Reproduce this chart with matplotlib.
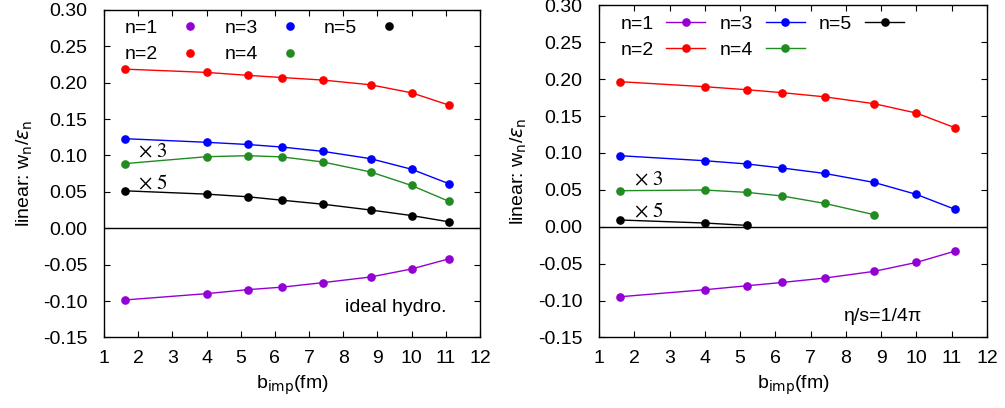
import matplotlib.pyplot as plt

plt.rcParams['font.family'] = ['Liberation Sans', 'DejaVu Sans']
plt.rcParams['font.size'] = 10

b = [1.6, 4.0, 5.2, 6.2, 7.4, 8.8, 10.0, 11.1]

# ideal hydro
ideal_n1 = [-0.0986, -0.0899, -0.0844, -0.0810, -0.0748, -0.0670, -0.0560, -0.0420]
ideal_n2 = [0.2185, 0.2140, 0.2100, 0.2070, 0.2035, 0.1970, 0.1860, 0.1690]
ideal_n3 = [0.1230, 0.1180, 0.1150, 0.1115, 0.1056, 0.0955, 0.0810, 0.0610]
ideal_n4 = [0.0887, 0.0982, 0.0996, 0.0980, 0.0910, 0.0773, 0.0587, 0.0368]
ideal_n5 = [0.0514, 0.0468, 0.0432, 0.0385, 0.0330, 0.0250, 0.0174, 0.0087]

# eta/s = 1/4pi
visc_n1 = [-0.0949, -0.0854, -0.0800, -0.0755, -0.0696, -0.0605, -0.0484, -0.0330]
visc_n2 = [0.1965, 0.1897, 0.1856, 0.1816, 0.1760, 0.1667, 0.1540, 0.1340]
visc_n3 = [0.0962, 0.0894, 0.0850, 0.0795, 0.0722, 0.0600, 0.0438, 0.0235]
visc_n4 = [0.0488, 0.0497, 0.0465, 0.0416, 0.0316, 0.0163]
visc_n5 = [0.0091, 0.0050, 0.0018]

colors = ['#9400d3', '#ff0000', '#0000ff', '#228b22', '#000000']
labels = ['n=1', 'n=2', 'n=3', 'n=4', 'n=5']

FS = 14

fig = plt.figure(figsize=(10.05, 4.08), dpi=100)
ax1 = fig.add_axes([0.1035, 0.173, 0.374, 0.803])
ax2 = fig.add_axes([0.596, 0.173, 0.386, 0.814])


def setup(ax):
    ax.set_xlim(1, 12)
    ax.set_ylim(-0.15, 0.30)
    ax.set_xticks(range(1, 13))
    ax.set_yticks([-0.15, -0.10, -0.05, 0.0, 0.05, 0.10, 0.15, 0.20, 0.25, 0.30])
    ax.set_yticklabels(['%.2f' % v for v in ax.get_yticks()])
    ax.tick_params(direction='in', top=True, right=True, labelsize=FS, length=4)
    ax.tick_params(axis='y', pad=12)
    ax.tick_params(axis='x', pad=9)
    ax.axhline(0, color='black', lw=1)
    ax.set_xlabel(r'b$_{\mathrm{imp}}$(fm)', fontsize=FS, labelpad=5)
    ax.set_ylabel(r'linear: w$_\mathrm{n}$/$\varepsilon_\mathrm{n}$', fontsize=FS, labelpad=6)
    for s in ax.spines.values():
        s.set_linewidth(1)


def factor(ax, x, y, s):
    ax.text(x, y, r'$\times\ %s$' % s, fontsize=15, va='center', math_fontfamily='stix')


leg_kw = dict(ncol=3, loc='upper left', markerfirst=False, frameon=False,
              fontsize=FS, handlelength=2.0, columnspacing=0.75, labelspacing=0.45,
              borderaxespad=0.1, handletextpad=0.65)

# left panel: markers + curve
ideal = [ideal_n1, ideal_n2, ideal_n3, ideal_n4, ideal_n5]
handles = []
for ys, c, lab in zip(ideal, colors, labels):
    ax1.plot(b, ys, color=c, lw=1)
    h, = ax1.plot(b, ys, 'o', color=c, ms=5.2, label=lab)
    handles.append(h)
setup(ax1)
ax1.legend(handles=handles, bbox_to_anchor=(0.03, 1.0), **leg_kw)
factor(ax1, 2.0, 0.105, '3')
factor(ax1, 2.0, 0.061, '5')
ax1.text(11.03, -0.109, 'ideal hydro.', fontsize=FS, ha='right', va='center')

# right panel: line + markers
visc = [visc_n1, visc_n2, visc_n3, visc_n4, visc_n5]
for ys, c, lab in zip(visc, colors, labels):
    ax2.plot(b[:len(ys)], ys, '-o', color=c, lw=1, ms=5.2, label=lab)
setup(ax2)
ax2.legend(bbox_to_anchor=(0.03, 1.0), **leg_kw)
factor(ax2, 2.0, 0.0637, '3')
factor(ax2, 2.0, 0.0207, '5')
ax2.text(7.94, -0.122, 'η/s=1/4π', fontsize=FS, va='center')

fig.savefig('out.png', dpi=100)
